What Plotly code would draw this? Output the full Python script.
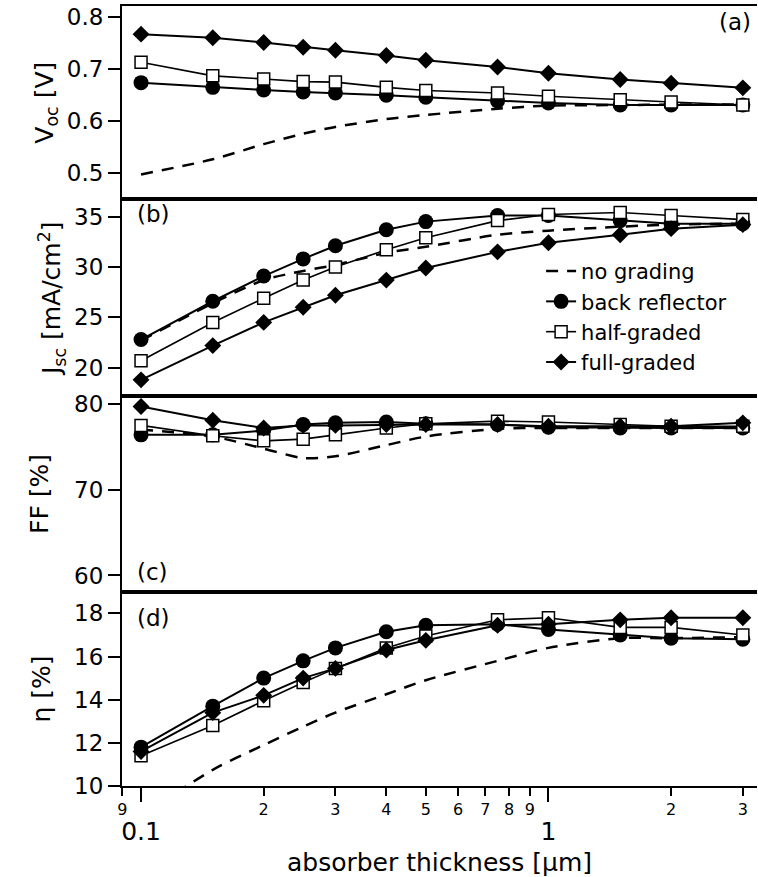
import numpy as np
import plotly.graph_objects as go

thickness = [0.1, 0.15, 0.2, 0.25, 0.3, 0.4, 0.5, 0.75, 1.0, 1.5, 2.0, 3.0]

voc_none = [0.498, 0.527, 0.556, 0.576, 0.589, 0.604, 0.612, 0.624, 0.630, 0.631, 0.632, 0.632]
voc_br = [0.674, 0.665, 0.660, 0.656, 0.654, 0.650, 0.646, 0.639, 0.635, 0.631, 0.631, 0.631]
voc_half = [0.713, 0.687, 0.681, 0.676, 0.675, 0.665, 0.659, 0.654, 0.648, 0.641, 0.637, 0.631]
voc_full = [0.767, 0.760, 0.751, 0.742, 0.736, 0.726, 0.717, 0.704, 0.692, 0.680, 0.673, 0.664]

jsc_none = [22.7, 26.4, 28.7, 29.6, 30.2, 31.4, 32.0, 33.2, 33.6, 34.0, 34.2, 34.3]
jsc_br = [22.8, 26.6, 29.1, 30.8, 32.1, 33.7, 34.5, 35.1, 35.1, 34.6, 34.3, 34.3]
jsc_half = [20.7, 24.5, 26.9, 28.7, 30.0, 31.7, 32.9, 34.6, 35.2, 35.4, 35.1, 34.7]
jsc_full = [18.8, 22.2, 24.5, 26.0, 27.2, 28.7, 29.9, 31.5, 32.4, 33.2, 33.8, 34.2]

ff_none = [77.0, 76.2, 74.8, 73.7, 73.9, 75.2, 76.2, 77.1, 77.2, 77.2, 77.2, 77.2]
ff_br = [76.4, 76.4, 76.9, 77.6, 77.8, 77.9, 77.7, 77.6, 77.3, 77.2, 77.2, 77.2]
ff_half = [77.5, 76.3, 75.7, 75.9, 76.4, 77.2, 77.7, 78.0, 77.9, 77.6, 77.4, 77.4]
ff_full = [79.7, 78.1, 77.2, 77.5, 77.5, 77.6, 77.6, 77.6, 77.4, 77.4, 77.4, 77.8]

eta_none = [8.6, 10.75, 11.9, 12.75, 13.4, 14.25, 14.9, 15.8, 16.4, 16.85, 16.85, 16.9]
eta_br = [11.8, 13.7, 15.0, 15.8, 16.4, 17.15, 17.45, 17.5, 17.25, 17.0, 16.85, 16.8]
eta_half = [11.4, 12.8, 13.95, 14.8, 15.45, 16.4, 16.95, 17.7, 17.8, 17.35, 17.35, 17.0]
eta_full = [11.6, 13.4, 14.2, 15.0, 15.45, 16.3, 16.75, 17.45, 17.5, 17.7, 17.8, 17.8]

series_names = ["no grading", "back reflector", "half-graded", "full-graded"]
panels = [
    ("y", [voc_none, voc_br, voc_half, voc_full]),
    ("y2", [jsc_none, jsc_br, jsc_half, jsc_full]),
    ("y3", [ff_none, ff_br, ff_half, ff_full]),
    ("y4", [eta_none, eta_br, eta_half, eta_full]),
]
xrefs = ["x", "x2", "x3", "x4"]

minor_vals = [0.09, 0.2, 0.3, 0.4, 0.5, 0.6, 0.7, 0.8, 0.9, 2, 3]
minor_text = ["9", "2", "3", "4", "5", "6", "7", "8", "9", "2", "3"]
major_vals = [0.1, 1]
major_text = ["0.1", "1"]

FONT = "DejaVu Sans"
BLACK = "#000000"

fig = go.Figure()

for i, (yref, data) in enumerate(panels):
    xref = xrefs[i]
    show = (i == 0)
    fig.add_trace(go.Scatter(
        x=thickness, y=data[0], mode="lines", name=series_names[0],
        line=dict(color=BLACK, width=2.5, dash="12px,9px", shape="spline", smoothing=0.8),
        xaxis=xref, yaxis=yref, showlegend=show, legendgroup="g0"))
    fig.add_trace(go.Scatter(
        x=thickness, y=data[1], mode="lines+markers", name=series_names[1],
        line=dict(color=BLACK, width=2),
        marker=dict(symbol="circle", size=15, color=BLACK),
        xaxis=xref, yaxis=yref, showlegend=show, legendgroup="g1"))
    fig.add_trace(go.Scatter(
        x=thickness, y=data[2], mode="lines+markers", name=series_names[2],
        line=dict(color=BLACK, width=1.6),
        marker=dict(symbol="square", size=12, color="white", line=dict(color=BLACK, width=1.5)),
        xaxis=xref, yaxis=yref, showlegend=show, legendgroup="g2"))
    fig.add_trace(go.Scatter(
        x=thickness, y=data[3], mode="lines+markers", name=series_names[3],
        line=dict(color=BLACK, width=2),
        marker=dict(symbol="diamond", size=13, color=BLACK),
        xaxis=xref, yaxis=yref, showlegend=show, legendgroup="g3"))

# carrier trace so the overlaid major-tick axis is rendered
fig.add_trace(go.Scatter(x=major_vals, y=[None, None], mode="lines", xaxis="x5", yaxis="y4",
                         showlegend=False, hoverinfo="skip"))

xrange = [np.log10(0.0898), np.log10(3.25)]

common_x = dict(type="log", range=xrange, showline=True, linecolor=BLACK, linewidth=2,
                mirror=True, showgrid=False, zeroline=False, domain=[0, 1])

fig.update_layout(
    width=758, height=877,
    margin=dict(l=122, r=1, t=4, b=91),
    paper_bgcolor="white", plot_bgcolor="white",
    font=dict(family=FONT, color=BLACK, size=23),
    showlegend=True,
    legend=dict(x=0.66, y=0.686, xanchor="left", yanchor="top",
                bgcolor="rgba(0,0,0,0)", font=dict(family=FONT, size=21, color=BLACK),
                itemwidth=30, tracegroupgap=0),
    xaxis=dict(**common_x, anchor="y", showticklabels=False, ticks=""),
    xaxis2=dict(**common_x, anchor="y2", showticklabels=False, ticks=""),
    xaxis3=dict(**common_x, anchor="y3", showticklabels=False, ticks=""),
    xaxis4=dict(**common_x, anchor="y4", ticks="outside", ticklen=8, tickwidth=2, tickcolor=BLACK,
                tickvals=minor_vals, ticktext=minor_text,
                tickfont=dict(family=FONT, size=16, color=BLACK)),
    xaxis5=dict(type="log", range=xrange, overlaying="x4", anchor="y4", side="bottom",
                showline=False, showgrid=False, zeroline=False,
                ticks="outside", ticklen=15, tickwidth=2, tickcolor=BLACK,
                tickvals=major_vals, ticktext=major_text, ticklabelstandoff=8,
                tickfont=dict(family=FONT, size=25, color=BLACK),
                title=dict(text="absorber thickness [\u03bcm]", font=dict(family=FONT, size=25, color=BLACK),
                           standoff=8)),
)

common_y = dict(showline=True, linecolor=BLACK, linewidth=2, ticks="outside", ticklen=12,
                tickwidth=2, tickcolor=BLACK, showgrid=False, zeroline=False,
                tickfont=dict(family=FONT, size=23, color=BLACK))

fig.update_layout(
    yaxis=dict(**common_y, domain=[0.752, 1.0], range=[0.45, 0.821],
               tickvals=[0.5, 0.6, 0.7, 0.8], ticktext=["0.5", "0.6", "0.7", "0.8"],
               title=dict(text="V<sub>oc</sub> [V]", font=dict(family=FONT, size=25), standoff=6)),
    yaxis2=dict(**common_y, domain=[0.5, 0.752], range=[17.2, 36.7],
                tickvals=[20, 25, 30, 35], ticktext=["20", "25", "30", "35"],
                title=dict(text="J<sub>sc</sub> [mA/cm<sup>2</sup>]", font=dict(family=FONT, size=25), standoff=6)),
    yaxis3=dict(**common_y, domain=[0.249, 0.5], range=[58.1, 80.93],
                tickvals=[60, 70, 80], ticktext=["60", "70", "80"],
                title=dict(text="FF [%]", font=dict(family=FONT, size=25), standoff=18)),
    yaxis4=dict(**common_y, domain=[0.0, 0.249], range=[10, 19.0],
                tickvals=[10, 12, 14, 16, 18], ticktext=["10", "12", "14", "16", "18"],
                title=dict(text="\u03b7 [%]", font=dict(family=FONT, size=25), standoff=16)),
)

labels = [("(a)", 0.993, 0.98, "right"), ("(b)", 0.02, 0.733, "left"),
          ("(c)", 0.02, 0.274, "left"), ("(d)", 0.02, 0.216, "left")]
for txt, xp, yp, xa in labels:
    fig.add_annotation(text=txt, x=xp, y=yp, xref="paper", yref="paper", xanchor=xa,
                       yanchor="middle", showarrow=False, font=dict(family=FONT, size=23, color=BLACK))

fig.write_html("out.html")
